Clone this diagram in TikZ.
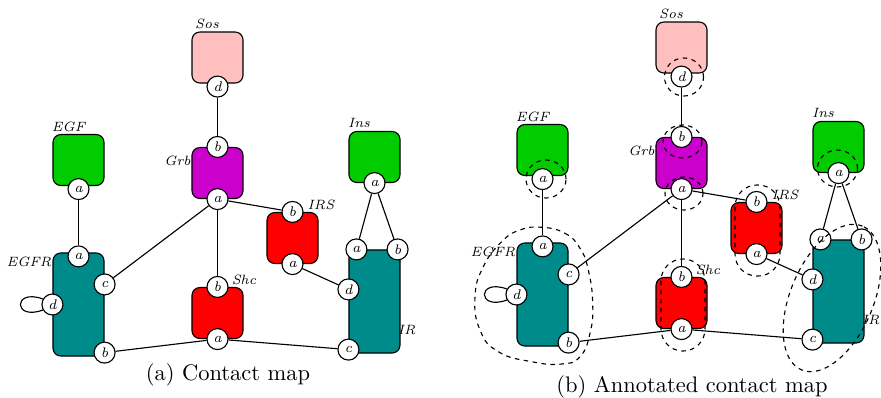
\documentclass[tikz,border=0pt]{standalone}
\usepackage{fontspec}
\usetikzlibrary{calc}
\definecolor{sospink}{RGB}{255,191,191}
\definecolor{recgreen}{RGB}{0,204,0}
\definecolor{grbmag}{RGB}{204,0,204}
\definecolor{adred}{RGB}{255,0,0}
\definecolor{rteal}{RGB}{0,139,139}
\tikzset{
  prot/.style={draw, rounded corners=3.5pt, line width=0.5pt, minimum width=22.67pt, minimum height=22.67pt, inner sep=0pt},
  tallprot/.style={prot, minimum height=45.8pt},
  site/.style={circle, draw, fill=white, minimum size=9.33pt, inner sep=0pt, line width=0.5pt, font=\fontsize{6.2}{7}\selectfont\itshape},
  plabel/.style={inner sep=0pt, font=\fontsize{6}{7}\selectfont\itshape},
  link/.style={line width=0.5pt},
  annot/.style={line width=0.5pt, dash pattern=on 2pt off 2pt},
  caption/.style={inner sep=0pt, font=\fontsize{10}{12}\selectfont},
}
\newcommand\contactmap[1]{%
  \node[prot, fill=sospink] (#1sos) at (217.5,57.5) {};
  \node[prot, fill=grbmag] (#1grb) at (217.5,173) {};
  \node[prot, fill=recgreen] (#1egf) at (78.5,160) {};
  \node[prot, fill=recgreen] (#1ins) at (374.5,157) {};
  \node[prot, fill=adred] (#1irs) at (292.5,238) {};
  \node[tallprot, fill=rteal] (#1egfr) at (78.5,304.5) {};
  \node[prot, fill=adred] (#1shc) at (217.5,313) {};
  \node[tallprot, fill=rteal] (#1ir) at (374.5,301.5) {};
  \node[plabel] (#1sosl) at (207,24) {Sos};
  \node[plabel] (#1egfl) at (68.5,127) {EGF};
  \node[plabel] (#1grbl) at (177.5,161) {Grb};
  \node[plabel] (#1insl) at (359,123) {Ins};
  \node[plabel] (#1irsl) at (321,205) {IRS};
  \node[plabel] (#1egfrl) at (29,262) {EGFR};
  \node[plabel] (#1shcl) at (244,280) {Shc};
  \node[plabel, anchor=east] (#1irl) at (416,330) {IR};
  \node[site] (#1sosd) at ($(#1sos.south)+(0,3)$) {d};
  \node[site] (#1grbb) at (#1grb.north) {b};
  \node[site] (#1grba) at (#1grb.south) {a};
  \node[site] (#1egfa) at ($(#1egf.south)+(0,3)$) {a};
  \node[site] (#1insa) at (#1ins.south) {a};
  \node[site] (#1irsb) at (#1irs.north) {b};
  \node[site] (#1irsa) at (#1irs.south) {a};
  \node[site] (#1egfra) at ($(#1egfr.north)+(0,4)$) {a};
  \node[site] (#1egfrc) at ($(#1egfr.north east)+(0,32)$) {c};
  \node[site] (#1egfrd) at (#1egfr.west) {d};
  \node[site] (#1egfrb) at ($(#1egfr.south east)+(0,-4)$) {b};
  \node[site] (#1shcb) at (#1shc.north) {b};
  \node[site] (#1shca) at (#1shc.south) {a};
  \node[site] (#1ira) at ($(#1ir.north west)+(8,0)$) {a};
  \node[site] (#1irb) at ($(#1ir.north east)+(-3,0)$) {b};
  \node[site] (#1ird) at ($(#1ir.north west)+(0,40)$) {d};
  \node[site] (#1irc) at ($(#1ir.south west)+(0,-4)$) {c};
  \draw[link] (#1sosd) -- (#1grbb);
  \draw[link] (#1grba) -- (#1egfrc);
  \draw[link] (#1grba) -- (#1shcb);
  \draw[link] (#1grba) -- (#1irsb);
  \draw[link] (#1egfa) -- (#1egfra);
  \draw[link] (#1insa) -- (#1ira);
  \draw[link] (#1insa) -- (#1irb);
  \draw[link] (#1irsa) -- (#1ird);
  \draw[link] (#1egfrb) -- (#1shca);
  \draw[link] (#1shca) -- (#1irc);
  \draw[link] (#1egfrd.150) .. controls +(-30,-11) and +(-30,11) .. (#1egfrd.210);
}
\begin{document}
\begin{tikzpicture}[x=0.4444pt, y=-0.4444pt]
  \useasboundingbox (0,0) rectangle (881,397);
  % (a) contact map
  \contactmap{L}
  \node[caption] (capa) at (228,375) {(a) Contact map};
  % (b) annotated contact map
  \begin{scope}[shift={(464,-10)}]
    \contactmap{R}
  \end{scope}
  \draw[annot] (684,77) ellipse [x radius=8.67pt, y radius=8.45pt];
  \draw[annot] (682.5,141.5) ellipse [x radius=8.67pt, y radius=7.33pt];
  \draw[annot] (684,193.5) ellipse [x radius=8.45pt, y radius=7.33pt];
  \draw[annot] (546,179) ellipse [x radius=8.9pt, y radius=8.45pt];
  \draw[annot] (837.5,168.5) ellipse [x radius=8.9pt, y radius=8.2pt];
  \draw[annot, rounded corners=9.7pt] (661,259) rectangle (705,351);
  \draw[annot, rounded corners=9.7pt] (735,185) rectangle (780,276);
  \draw[annot] plot[smooth cycle, tension=0.8] coordinates {
    (541.7,227.3) (565,233.3) (580,248.3) (588.3,270) (592.7,303.3) (590,333.3)
    (580,356.7) (561.7,364) (531.7,361.7) (498.3,351.7) (480,330) (475,296.7)
    (483.3,266.7) (501.7,241.7) (520,230)};
  \draw[annot, rotate around={67:(832,298)}] (832,298) ellipse [x radius=34.7pt, y radius=18.4pt];
  \node[caption] (capb) at (692,387) {(b) Annotated contact map};
\end{tikzpicture}
\end{document}
